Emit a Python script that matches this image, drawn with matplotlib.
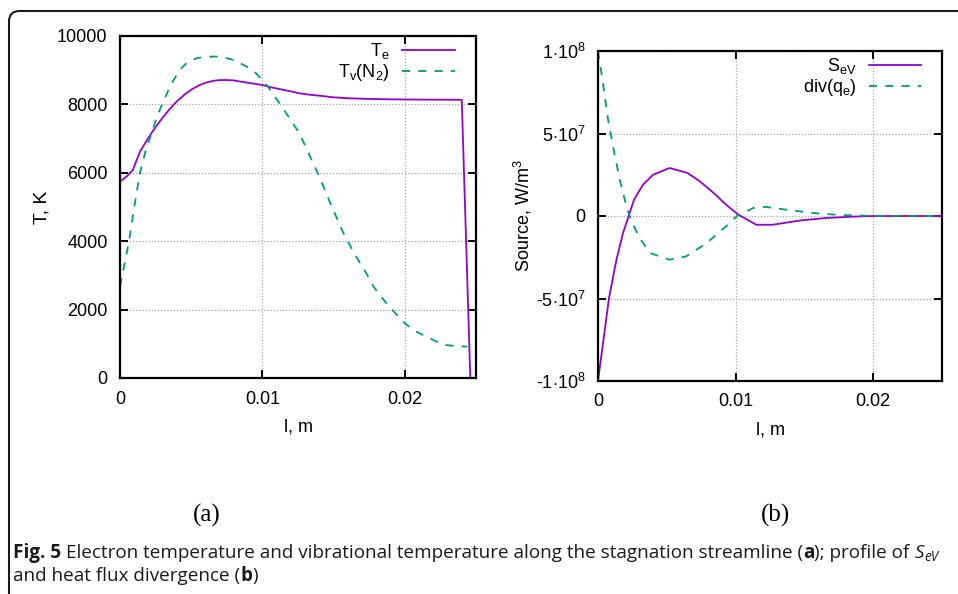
import matplotlib
matplotlib.use("Agg")
import matplotlib.pyplot as plt
from matplotlib import font_manager
from matplotlib.patches import FancyBboxPatch

# ---------------- data ----------------
l_te = [0, 0.0005, 0.0009, 0.0014, 0.0019, 0.0023, 0.0027, 0.0030, 0.0034, 0.0037,
        0.0041, 0.0046, 0.0051, 0.0056, 0.0061, 0.0066, 0.0070, 0.0075, 0.0080,
        0.0085, 0.0092, 0.0100, 0.0106, 0.0113, 0.0120, 0.0126, 0.0133, 0.0140,
        0.0150, 0.0160, 0.0175, 0.0190, 0.0210, 0.0240, 0.0246]
te = [5740, 5906, 6080, 6617, 6960, 7215, 7450, 7615, 7820, 7960,
      8130, 8310, 8455, 8567, 8645, 8692, 8710, 8713, 8700,
      8664, 8620, 8567, 8500, 8440, 8380, 8324, 8285, 8255,
      8207, 8180, 8160, 8148, 8140, 8135, 0]

l_tv = [0, 0.0003, 0.00065, 0.0010, 0.0014, 0.0018, 0.00222, 0.0026, 0.00304,
        0.0036, 0.0042, 0.0046, 0.0050, 0.0055, 0.0060, 0.0065, 0.0070, 0.0075,
        0.0080, 0.0089, 0.0095, 0.0100, 0.0106, 0.0112, 0.0119, 0.0126, 0.0133,
        0.0140, 0.0148, 0.0157, 0.0165, 0.0173, 0.0178, 0.0188, 0.0200, 0.0207,
        0.0215, 0.0222, 0.0229, 0.0236, 0.0244]
tv = [2680, 3300, 4035, 5000, 5994, 6650, 7155, 7650, 8080,
      8600, 9006, 9180, 9298, 9360, 9385, 9400, 9395, 9350,
      9298, 9103, 8930, 8713, 8400, 8030, 7600, 7155, 6520,
      5886, 5080, 4230, 3600, 3061, 2670, 2134, 1598, 1380,
      1208, 1070, 965, 930, 917]

l_s = [0, 0.0008, 0.00134, 0.00182, 0.00262, 0.00327, 0.0040, 0.0052, 0.0065,
       0.0074, 0.0084, 0.0093, 0.0102, 0.0115, 0.0127, 0.0147, 0.0166, 0.0185,
       0.0200, 0.0250]
s_ev = [-1.0e8, -4.97e7, -2.65e7, -1.03e7, 0.99e7, 1.9e7, 2.5e7, 2.91e7, 2.61e7,
        2.1e7, 1.4e7, 0.69e7, 0.08e7, -0.53e7, -0.53e7, -0.27e7, -0.12e7, -0.04e7,
        0.0, 0.0]

l_q = [0, 0.00036, 0.00073, 0.00109, 0.00158, 0.00207, 0.00243, 0.00303, 0.00376,
       0.0052, 0.0064, 0.0079, 0.0093, 0.0101, 0.0113, 0.0122, 0.0137, 0.0156,
       0.0176, 0.0200, 0.0250]
div_q = [1.0e8, 8.07e7, 5.84e7, 4.22e7, 2.2e7, 0.58e7, -0.33e7, -1.33e7, -2.24e7,
         -2.65e7, -2.45e7, -1.64e7, -0.63e7, 0.0, 0.49e7, 0.55e7, 0.38e7, 0.18e7,
         0.06e7, 0.01e7, 0.0]

x_ticks = [0, 0.01, 0.02]
x_ticklabels = ["0", "0.01", "0.02"]
t_ticks = [0, 2000, 4000, 6000, 8000, 10000]
s_ticks = [-1e8, -5e7, 0, 5e7, 1e8]
s_ticklabels = [r"-1$\cdot$10$^{8}$", r"-5$\cdot$10$^{7}$", "0",
                r"5$\cdot$10$^{7}$", r"1$\cdot$10$^{8}$"]

caption1 = "Electron temperature and vibrational temperature along the stagnation streamline ("
caption2 = "and heat flux divergence ("

# ---------------- style ----------------
plt.rcParams["font.family"] = ["Liberation Sans", "DejaVu Sans"]
plt.rcParams["mathtext.fontset"] = "custom"
plt.rcParams["mathtext.rm"] = "Liberation Sans"
plt.rcParams["mathtext.it"] = "Liberation Sans"
plt.rcParams["mathtext.bf"] = "Liberation Sans:bold"

W, H = 958, 594
fig = plt.figure(figsize=(W / 100, H / 100), dpi=100)

PURPLE = "#9400d3"
GREEN = "#009e73"
FS = 13


def style_axes(ax):
    for sp in ax.spines.values():
        sp.set_linewidth(1.6)
        sp.set_color("black")
    ax.tick_params(direction="in", length=6, width=1.4, top=True, right=True,
                   labelsize=FS, pad=9, colors="black")
    ax.grid(True, linestyle=(0, (1, 1.5)), color="#a5a5a5", linewidth=0.9)
    ax.set_axisbelow(True)


def px_rect(x0, y0, x1, y1):
    return [x0 / W, 1 - y1 / H, (x1 - x0) / W, (y1 - y0) / H]


# Left panel
ax1 = fig.add_axes(px_rect(120, 36, 476, 378))
ax1.plot(l_te, te, color=PURPLE, lw=1.3, label=r"T$_{\mathrm{e}}$")
ax1.plot(l_tv, tv, color=GREEN, lw=1.3, dashes=(4.5, 4.5),
         label=r"T$_{\mathrm{v}}$(N$_{2}$)")
ax1.set_xlim(0, 0.025)
ax1.set_ylim(0, 10000)
ax1.set_xticks(x_ticks)
ax1.set_xticklabels(x_ticklabels)
ax1.set_yticks(t_ticks)
style_axes(ax1)
ax1.set_xlabel("l, m", fontsize=FS, labelpad=8)
ax1.set_ylabel("T, K", fontsize=FS + 1, labelpad=5)
leg1 = ax1.legend(loc="upper right", bbox_to_anchor=(0.94, 0.985), frameon=False,
                  markerfirst=False, fontsize=FS, handlelength=2.9,
                  handletextpad=0.7, labelspacing=0.05, borderpad=0,
                  borderaxespad=0)

# Right panel
ax2 = fig.add_axes(px_rect(598, 51, 942, 381))
ax2.plot(l_s, s_ev, color=PURPLE, lw=1.3, label=r"S$_{\mathrm{eV}}$")
ax2.plot(l_q, div_q, color=GREEN, lw=1.3, dashes=(4.5, 4.5),
         label=r"div(q$_{\mathrm{e}}$)")
ax2.set_xlim(0, 0.025)
ax2.set_ylim(-1e8, 1e8)
ax2.set_xticks(x_ticks)
ax2.set_xticklabels(x_ticklabels)
ax2.set_yticks(s_ticks)
ax2.set_yticklabels(s_ticklabels)
style_axes(ax2)
ax2.set_xlabel("l, m", fontsize=FS, labelpad=8)
ax2.set_ylabel(r"Source, W/m$^{3}$", fontsize=FS, labelpad=1)
leg2 = ax2.legend(loc="upper right", bbox_to_anchor=(0.94, 0.985), frameon=False,
                  markerfirst=False, fontsize=FS, handlelength=2.9,
                  handletextpad=0.7, labelspacing=0.05, borderpad=0,
                  borderaxespad=0)

# Panel labels
fig.text(207 / W, 1 - 515 / H, "(a)", family="Liberation Serif", fontsize=18,
         ha="center", va="center")
fig.text(776 / W, 1 - 515 / H, "(b)", family="Liberation Serif", fontsize=18,
         ha="center", va="center")

# Border (rounded, clipped at right/bottom)
border = FancyBboxPatch((9 / W, -0.2), 1.2, 1 - 11 / H + 0.2,
                        boxstyle="round,pad=0,rounding_size=0.011",
                        transform=fig.transFigure, fill=False,
                        edgecolor="#1a1a1a", linewidth=1.5,
                        mutation_aspect=W / H)
fig.patches.append(border)

# Caption
def pick_font():
    for fam in ["Liberation Sans Narrow", "Open Sans", "Noto Sans"]:
        try:
            font_manager.findfont(font_manager.FontProperties(family=fam),
                                  fallback_to_default=False)
            return fam
        except Exception:
            continue
    return "DejaVu Sans"


CAP_FONT = pick_font()
renderer = fig.canvas.get_renderer()


def text_width(s, **kw):
    t = fig.text(0, 0, s, **kw)
    w = t.get_window_extent(renderer).width
    t.remove()
    return w


def draw_line(x_px, base_px, pieces, size):
    arts = []
    sp = text_width("a a", family=CAP_FONT, fontsize=size) - \
        text_width("aa", family=CAP_FONT, fontsize=size)
    x = x_px
    for p in pieces:
        if p is None:
            x += sp
            continue
        s, kw = p
        kw = dict(kw)
        scale = kw.pop("scale", 1.0)
        dy = kw.pop("dy", 0.0)
        t = fig.text(x / W, 1 - (base_px + dy * size) / H, s, family=CAP_FONT,
                     fontsize=size * scale, va="baseline", ha="left",
                     color="#1a1a1a", **kw)
        arts.append(t)
        x += t.get_window_extent(renderer).width
    return x, arts


line1 = [("Fig. 5", dict(weight="bold")), None,
         (caption1, {}), ("a", dict(weight="bold")), ("); profile of", {}), None,
         ("S", dict(style="italic")),
         ("eV", dict(style="italic", scale=0.72, dy=0.25))]
line2 = [(caption2, {}), ("b", dict(weight="bold")), (")", {})]

size = 13
end, arts = draw_line(13, 558, line1, size)
target = 936 - 13
size = size * target / (end - 13)
for a in arts:
    a.remove()
draw_line(13, 558, line1, size)
draw_line(13, 581, line2, size)

fig.savefig("out.png", dpi=100)
